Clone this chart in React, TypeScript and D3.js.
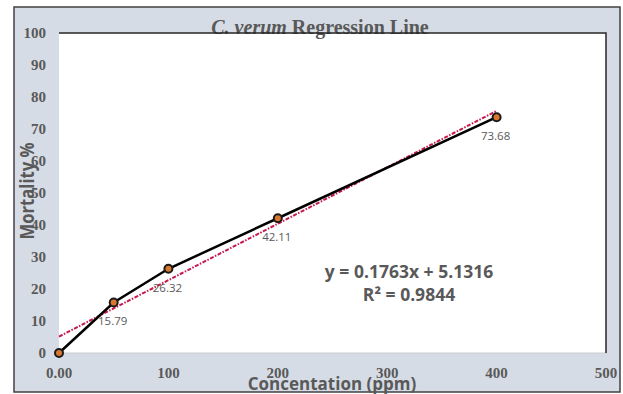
import React from 'react';
import * as d3 from 'd3';

// concentration (ppm) and mortality (%)
const concentrations = [0, 50, 100, 200, 400];
const mortality = [0, 15.79, 26.32, 42.11, 73.68];
const pointLabels = ['', '15.79', '26.32', '42.11', '73.68'];
const xTicks = [0, 100, 200, 300, 400, 500];
const xTickLabels = ['0.00', '100', '200', '300', '400', '500'];
const yTicks = [0, 10, 20, 30, 40, 50, 60, 70, 80, 90, 100];
const slope = 0.1763;
const intercept = 5.1316;
const trendRange = [0, 400];

const W = 623;
const H = 394;
const left = 59;
const right = 606;
const top = 33;
const bottom = 353;

const serif = '"Liberation Serif", "DejaVu Serif", serif';
const sans = '"Open Sans", "Noto Sans", sans-serif';
const grey = '#595959';

const App: React.FC = () => {
    const x = d3.scaleLinear().domain([0, 500]).range([left, right]);
    const y = d3.scaleLinear().domain([0, 100]).range([bottom, top]);

    const pts = concentrations.map((c, i) => ({ c, m: mortality[i], label: pointLabels[i] }));
    const line = d3.line<{ c: number; m: number }>().x(d => x(d.c)).y(d => y(d.m));
    const trend = trendRange.map(c => ({ c, m: slope * c + intercept }));

    return (
        <svg width={W} height={H} style={{ position: 'absolute', left: 0, top: 0 }}>
            <rect x={14} y={7} width={606} height={385} fill="#d6dce5" stroke="#404040" strokeWidth={1.5} />
            <rect x={left} y={top} width={right - left} height={bottom - top} fill="#fff" />
            <line x1={left} x2={right} y1={bottom} y2={bottom} stroke="#c8ccd2" strokeWidth={1} />

            <text x={320} y={34} textAnchor="middle" fontFamily={serif} fontWeight="bold" fontSize={20} fill={grey}>
                <tspan fontStyle="italic">C. verum</tspan> Regression  Line
            </text>
            <polyline points={`${left},${top} ${right},${top} ${right},${bottom}`} fill="none" stroke="#262626" strokeWidth={1.5} />

            {yTicks.map(t => (
                <text key={t} x={46} y={y(t) + 5} textAnchor="end" fontFamily={serif} fontWeight="bold" fontSize={15} fill={grey}>
                    {t}
                </text>
            ))}
            {xTicks.map((t, i) => (
                <text key={t} x={x(t)} y={378} textAnchor="middle" fontFamily={serif} fontWeight="bold" fontSize={15} fill={grey}>
                    {xTickLabels[i]}
                </text>
            ))}

            <path d={line(trend) || ''} fill="none" stroke="#c8174a" strokeWidth={2} strokeDasharray="4,1.5,1.5,1.5" />
            <path d={line(pts) || ''} fill="none" stroke="#000" strokeWidth={2.5} />
            {pts.map((d, i) => (
                <circle key={i} cx={x(d.c)} cy={y(d.m)} r={4} fill="#d9772e" stroke="#1a1a1a" strokeWidth={2} />
            ))}
            {pts.map((d, i) => d.label && (
                <text key={'l' + i} x={x(d.c) - 1} y={y(d.m) + 23} textAnchor="middle"
                    fontFamily={sans} fontSize={11.5} fill={grey}>
                    {d.label}
                </text>
            ))}

            <text x={409} y={278} textAnchor="middle" fontFamily={sans} fontWeight="bold" fontSize={17.5} fill={grey}>
                y = 0.1763x + 5.1316
            </text>
            <text x={409} y={301} textAnchor="middle" fontFamily={sans} fontWeight="bold" fontSize={17.5} fill={grey}>
                R² = 0.9844
            </text>

            <text x={332} y={390} textAnchor="middle" fontFamily={sans} fontWeight="bold" fontSize={17} fill={grey}>
                Concentation (ppm)
            </text>
            <text transform="translate(34,191) rotate(-90)" textAnchor="middle" fontFamily={sans} fontWeight="bold" fontSize={19}
                textLength={97} lengthAdjust="spacingAndGlyphs" fill={grey}>
                Mortality %
            </text>
        </svg>
    );
};

export default App;
